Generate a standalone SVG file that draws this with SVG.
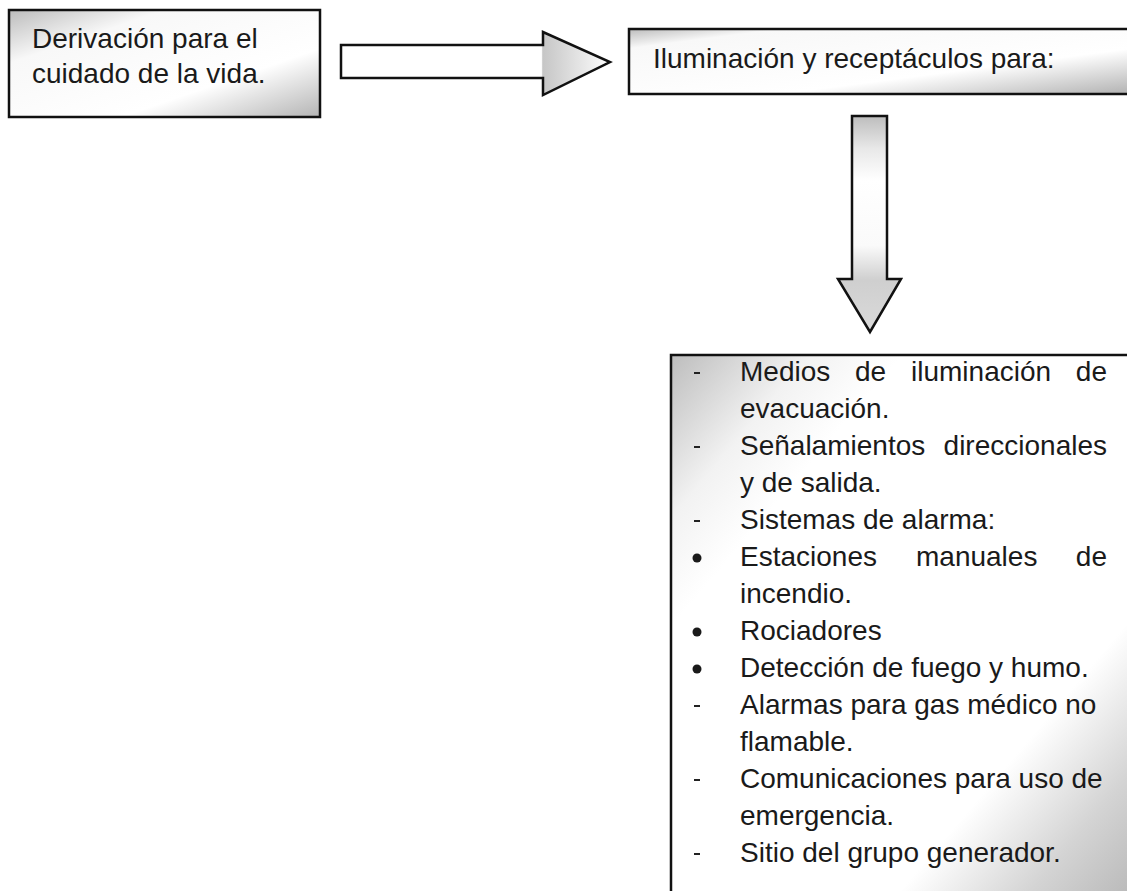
<svg xmlns="http://www.w3.org/2000/svg" width="1127" height="891" viewBox="0 0 1127 891">
<style>
.box{stroke:#111;stroke-width:2.5}
.arr{stroke:#111;stroke-width:2.5;stroke-linejoin:miter}
text{font-family:"Liberation Sans",Arial,sans-serif;fill:#1a1a1a;font-size:28px}
.dash{stroke:#222;stroke-width:2}
.r{text-anchor:end}
</style>
<defs>
<linearGradient id="g1" x1="0" y1="0" x2="1" y2="1">
<stop offset="0" stop-color="#bcbcbc"/>
<stop offset="0.25" stop-color="#f8f8f8"/>
<stop offset="0.68" stop-color="#ffffff"/>
<stop offset="1" stop-color="#b4b4b4"/>
</linearGradient>
<linearGradient id="g2" x1="0" y1="0" x2="1" y2="1">
<stop offset="0" stop-color="#bcbcbc"/>
<stop offset="0.15" stop-color="#f8f8f8"/>
<stop offset="0.65" stop-color="#ffffff"/>
<stop offset="0.97" stop-color="#b8b8b8"/>
</linearGradient>
<linearGradient id="g3" x1="0" y1="0" x2="1" y2="1">
<stop offset="0" stop-color="#bdbdbd"/>
<stop offset="0.15" stop-color="#f2f2f2"/>
<stop offset="0.25" stop-color="#ffffff"/>
<stop offset="0.74" stop-color="#ffffff"/>
<stop offset="0.88" stop-color="#d4d4d4"/>
<stop offset="1" stop-color="#b8b8b8"/>
</linearGradient>
<linearGradient id="gh" gradientUnits="userSpaceOnUse" x1="341" y1="0" x2="610" y2="0">
<stop offset="0" stop-color="#ffffff"/>
<stop offset="0.745" stop-color="#ffffff"/>
<stop offset="0.75" stop-color="#c6c6c6"/>
<stop offset="0.92" stop-color="#ececec"/>
<stop offset="1" stop-color="#ffffff"/>
</linearGradient>
<linearGradient id="gv" gradientUnits="userSpaceOnUse" x1="0" y1="116" x2="0" y2="332">
<stop offset="0" stop-color="#bdbdbd"/>
<stop offset="0.15" stop-color="#e8e8e8"/>
<stop offset="0.3" stop-color="#ffffff"/>
<stop offset="0.6" stop-color="#fafafa"/>
<stop offset="0.76" stop-color="#cfcfcf"/>
<stop offset="1" stop-color="#dadada"/>
</linearGradient>
</defs>

<g id="connectors">
<path class="arr" d="M341,45 L543,45 L543,32 L610,62 L543,95 L543,78 L341,78 Z" fill="url(#gh)"/>
<path class="arr" d="M852,116 L887,116 L887,279 L901,279 L870,332 L838,279 L852,279 Z" fill="url(#gv)"/>
</g>

<g id="node1">
<rect class="box" x="9" y="10" width="311" height="107" fill="url(#g1)"/>
<text x="32" y="48">Derivación para el</text>
<text x="32" y="83">cuidado de la vida.</text>
</g>

<g id="node2">
<rect class="box" x="629" y="29" width="502" height="65" fill="url(#g2)"/>
<text x="653" y="68">Iluminación y receptáculos para:</text>
</g>

<g id="node3">
<rect class="box" x="671" y="355" width="462" height="545" fill="url(#g3)"/>
<line class="dash" x1="694" y1="373" x2="700" y2="373"/>
<text x="740" y="381">Medios</text>
<text x="855" y="381">de</text>
<text x="911" y="381">iluminación</text>
<text class="r" x="1107" y="381">de</text>
<text x="740" y="418">evacuación.</text>
<line class="dash" x1="694" y1="447" x2="700" y2="447"/>
<text x="740" y="455">Señalamientos</text>
<text class="r" x="1107" y="455">direccionales</text>
<text x="740" y="492">y de salida.</text>
<line class="dash" x1="694" y1="521" x2="700" y2="521"/>
<text x="740" y="529">Sistemas de alarma:</text>
<circle cx="697" cy="558" r="4.5" fill="#1a1a1a"/>
<text x="740" y="566">Estaciones</text>
<text x="916" y="566">manuales</text>
<text class="r" x="1107" y="566">de</text>
<text x="740" y="603">incendio.</text>
<circle cx="697" cy="632" r="4.5" fill="#1a1a1a"/>
<text x="740" y="640">Rociadores</text>
<circle cx="697" cy="669" r="4.5" fill="#1a1a1a"/>
<text x="740" y="677">Detección de fuego y humo.</text>
<line class="dash" x1="694" y1="706" x2="700" y2="706"/>
<text x="740" y="714">Alarmas para gas médico no</text>
<text x="740" y="751">flamable.</text>
<line class="dash" x1="694" y1="780" x2="700" y2="780"/>
<text x="740" y="788">Comunicaciones para uso de</text>
<text x="740" y="825">emergencia.</text>
<line class="dash" x1="694" y1="854" x2="700" y2="854"/>
<text x="740" y="862">Sitio del grupo generador.</text>
</g>
</svg>
